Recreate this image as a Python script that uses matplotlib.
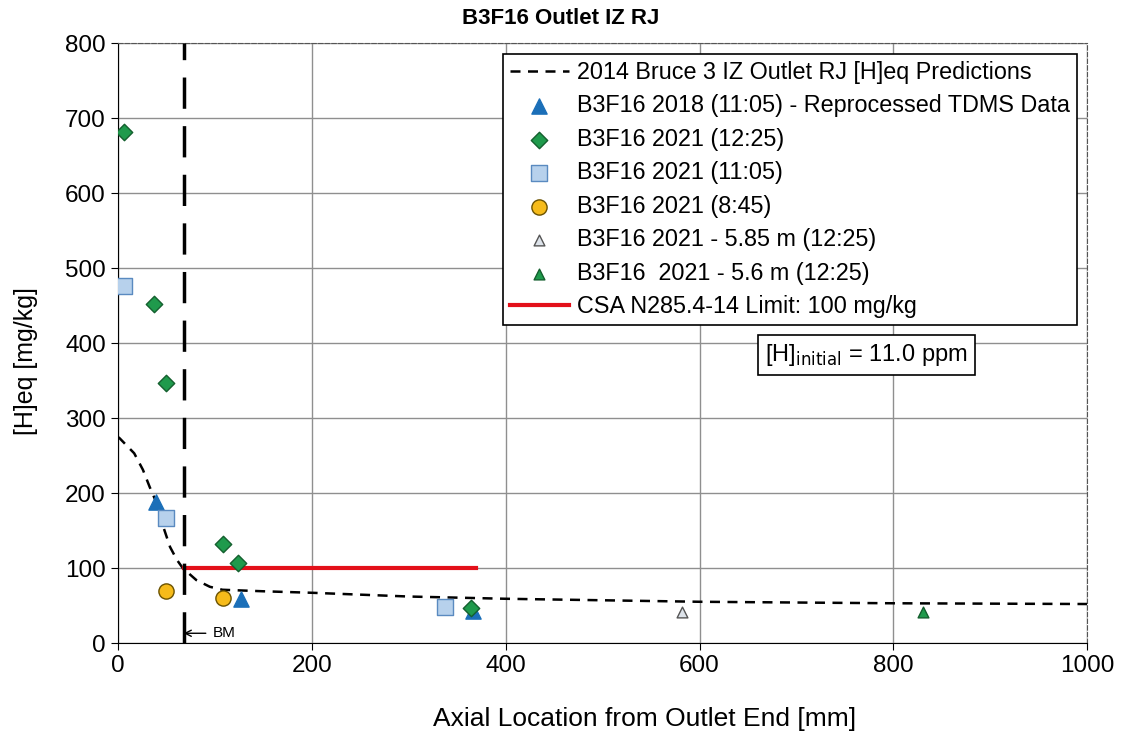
import numpy as np
import matplotlib.pyplot as plt

plt.rcParams['font.family'] = ['Liberation Sans', 'DejaVu Sans']

# prediction curve (2014)
pred_x = [0, 2, 17, 26, 33, 40, 47, 54, 61, 67, 81, 95, 108, 150, 200, 300, 400, 500, 600, 800, 1000]
pred_y = [275, 273, 253, 231, 208, 187, 155, 128, 111, 100, 84, 75, 71, 69, 67, 62, 59, 57, 55, 53, 52]

tri18_x = [40, 127, 366]
tri18_y = [188, 59, 43]

dia_x = [7, 37, 50, 109, 124, 364]
dia_y = [681, 452, 347, 132, 107, 47]

sq_x = [6, 50, 338]
sq_y = [476, 167, 48]

circ_x = [50, 109]
circ_y = [70, 60]

grey_x = [582]
grey_y = [41]

gtri_x = [831]
gtri_y = [42]

limit_x = [68, 370]
limit_y = [100, 100]
bm_x = 68

fig = plt.figure(figsize=(11.21, 7.42), dpi=100)
ax = fig.add_axes([0.105, 0.1334, 0.865, 0.8086])

ax.plot(pred_x, pred_y, 'k--', lw=1.8, dashes=(4, 3), zorder=3,
        label='2014 Bruce 3 IZ Outlet RJ [H]eq Predictions')
ax.scatter(tri18_x, tri18_y, marker='^', s=120, c='#1b6fb8', edgecolors='#1b6fb8',
           zorder=5, label='B3F16 2018 (11:05) - Reprocessed TDMS Data')
ax.scatter(dia_x, dia_y, marker='D', s=70, c='#1f9a4c', edgecolors='#145f2e',
           zorder=5, label='B3F16 2021 (12:25)')
ax.scatter(sq_x, sq_y, marker='s', s=120, c='#b7d1ec', edgecolors='#5a8ac0',
           zorder=5, label='B3F16 2021 (11:05)')
ax.scatter(circ_x, circ_y, marker='o', s=120, c='#f6bb1a', edgecolors='#6b5200',
           zorder=5, label='B3F16 2021 (8:45)')
ax.scatter(grey_x, grey_y, marker='^', s=60, c='#dde3ea', edgecolors='#555555',
           zorder=5, label='B3F16 2021 - 5.85 m (12:25)')
ax.scatter(gtri_x, gtri_y, marker='^', s=60, c='#1f9a4c', edgecolors='#145f2e',
           zorder=5, label='B3F16  2021 - 5.6 m (12:25)')
ax.plot(limit_x, limit_y, color='#e3101a', lw=3, zorder=4,
        label='CSA N285.4-14 Limit: 100 mg/kg')

ax.axvline(bm_x, color='black', lw=2.5, dashes=(9, 5), zorder=4)
ax.annotate('BM', xy=(bm_x, 13), xytext=(98, 13),
            fontsize=11, va='center', ha='left', annotation_clip=False,
            arrowprops=dict(arrowstyle='->', color='black', lw=1, shrinkA=3, shrinkB=0))

ax.set_xlim(0, 1000)
ax.set_ylim(0, 800)
ax.set_xticks(np.arange(0, 1001, 200))
ax.set_yticks(np.arange(0, 801, 100))
ax.grid(True, color='#8f8f8f', lw=1)
ax.set_axisbelow(True)
ax.tick_params(labelsize=17.5, direction='out', length=5)

for s in ['top', 'right']:
    ax.spines[s].set_linestyle((0, (4, 2)))
    ax.spines[s].set_color('#555555')

fig.text(0.5, 0.975, 'B3F16 Outlet IZ RJ', fontsize=16, fontweight='bold',
         ha='center', va='center')
ax.set_xlabel('Axial Location from Outlet End [mm]', fontsize=19)
ax.xaxis.set_label_coords(0.543, -0.107)
ax.set_ylabel('[H]eq [mg/kg]', fontsize=18)
ax.yaxis.set_label_coords(-0.082, 0.47)

leg = ax.legend(loc='upper right', bbox_to_anchor=(0.989, 0.982), fontsize=16.8,
                fancybox=False, edgecolor='black', framealpha=1,
                handlelength=2.5, handletextpad=0.35, labelspacing=0.45,
                borderpad=0.3, borderaxespad=0)
leg.get_frame().set_linewidth(1.2)

ax.text(0.668, 0.48, r'[H]$_{\mathrm{initial}}$ = 11.0 ppm', transform=ax.transAxes,
        fontsize=17, va='center', ha='left',
        bbox=dict(boxstyle='square,pad=0.3', fc='white', ec='black', lw=1.2))

plt.savefig('out.png', dpi=100)
plt.close()
